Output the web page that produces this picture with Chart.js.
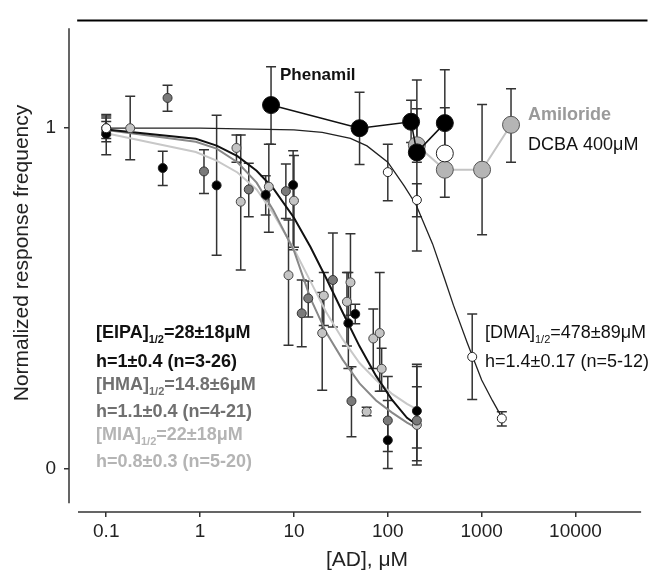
<!DOCTYPE html>
<html>
<head>
<meta charset="utf-8">
<script src="https://cdn.jsdelivr.net/npm/chart.js@4.4.1/dist/chart.umd.min.js"></script>
<style>
  body { margin: 0; background: #fff; }
  #wrap { width: 657px; height: 571px; }
</style>
</head>
<body>
<div id="wrap"><canvas id="chart" width="657" height="571"></canvas></div>
<script>
// axis ticks
const xTicks = [0.1, 1, 10, 100, 1000, 10000];
const yTicks = [0, 1];

// EIPA (black, small)
const eipaConc = [0.1, 0.4, 1.5, 5.0, 9.8, 38, 45, 100, 204];
const eipaResp = [0.983, 0.883, 0.832, 0.804, 0.833, 0.427, 0.454, 0.083, 0.169];
const eipaErr = [[0.922, 1.036], [0.832, 0.932], [0.627, 1.038], [0.745, 0.86], [0.643, 0.934],
                 [0.294, 0.576], [0.425, 0.483], [0.0, 0.2], [0.023, 0.306]];

// HMA (dark grey, small)
const hmaConc = [0.1, 0.45, 1.1, 3.3, 8.2, 12.1, 14.2, 26, 41, 100, 204];
const hmaResp = [1.0, 1.089, 0.873, 0.82, 0.815, 0.456, 0.5, 0.554, 0.198, 0.141, 0.141];
const hmaErr = [[0.97, 1.03], [1.05, 1.126], [0.808, 0.937], [0.74, 0.897], [0.735, 0.895],
                [0.358, 0.554], [0.445, 0.551], [0.416, 0.692], [0.093, 0.299], [0.05, 0.27], [0.06, 0.24]];

// MIA (light grey, small)
const miaConc = [0.1, 0.18, 2.44, 2.71, 5.4, 8.75, 10, 20, 20.8, 36.7, 40, 59.5, 70, 82, 86, 204];
const miaResp = [0.99, 1.0, 0.942, 0.784, 0.828, 0.568, 0.787, 0.398, 0.508, 0.49, 0.547, 0.167,
                 0.382, 0.398, 0.293, 0.128];
const miaErr = [[0.96, 1.02], [0.907, 1.094], [0.9, 0.98], [0.583, 0.98], [0.694, 0.953], [0.362, 0.73],
                [0.65, 0.92], [0.23, 0.517], [0.42, 0.576], [0.36, 0.576], [0.45, 0.69], [0.155, 0.18],
                [0.294, 0.469], [0.227, 0.576], [0.227, 0.353], [0.01, 0.3]];

// DMA (white, small)
const dmaConc = [0.1, 100, 204, 793, 1640];
const dmaResp = [1.0, 0.871, 0.789, 0.328, 0.147];
const dmaErr = [[0.98, 1.04], [0.787, 0.953], [0.74, 0.837], [0.203, 0.454], [0.125, 0.167]];

// Phenamil, Amiloride, DCBA (large markers)
const phenamilConc = [5.7, 50, 177, 204, 405];
const phenamilResp = [1.068, 1.0, 1.019, 0.929, 1.015];
const phenamilErr = [[0.953, 1.181], [0.893, 1.106], [0.958, 1.082], [0.639, 1.142], [0.86, 1.172]];

const amilorideConc = [204, 405, 1010, 2055];
const amilorideResp = [0.95, 0.878, 0.878, 1.01];
const amilorideErr = [[0.9, 1.057], [0.797, 1.06], [0.687, 1.07], [0.9, 1.116]];

const dcbaConc = [405];
const dcbaResp = [0.926];

// fitted curves
const fitConc = [0.1, 0.9, 1.5, 2.5, 4, 6, 10, 15, 22, 33, 50, 75, 110, 160, 200];
const eipaFit = [0.996, 0.969, 0.949, 0.918, 0.875, 0.824, 0.737, 0.651, 0.56, 0.459, 0.359, 0.272, 0.203, 0.149, 0.13];
const hmaFit = [0.995, 0.96, 0.94, 0.9, 0.84, 0.76, 0.64, 0.5, 0.4, 0.32, 0.25, 0.2, 0.165, 0.135, 0.12];
const miaFit = [0.985, 0.93, 0.905, 0.87, 0.82, 0.75, 0.645, 0.55, 0.46, 0.38, 0.31, 0.26, 0.22, 0.19, 0.175];

const dmaFitConc = [0.1, 1, 10, 20, 40, 60, 100, 150, 200, 300, 400, 500, 700, 1000, 1300, 1640];
const dmaFit = [1.0, 1.0, 0.995, 0.988, 0.97, 0.948, 0.9, 0.83, 0.775, 0.66, 0.56, 0.48, 0.37, 0.26, 0.2, 0.15];

const FONT = '"Liberation Sans", Arial, sans-serif';

function pts(xs, ys) {
  return xs.map((x, i) => ({ x: x, y: ys[i] }));
}

function markers(label, xs, ys, err, fill, border, r, order) {
  return {
    type: 'scatter', label: label, data: pts(xs, ys), err: err,
    pointRadius: r, pointHoverRadius: r, backgroundColor: fill, borderColor: border,
    pointBorderWidth: 1, showLine: false, order: order
  };
}

function curve(label, xs, ys, color, width) {
  return {
    type: 'line', label: label, data: pts(xs, ys), borderColor: color, borderWidth: width,
    pointRadius: 0, tension: 0, fill: false, order: 20
  };
}

const datasets = [
  curve('EIPA fit', fitConc, eipaFit, '#111', 2),
  curve('HMA fit', fitConc, hmaFit, '#888', 2),
  curve('MIA fit', fitConc, miaFit, '#c8c8c8', 2),
  curve('DMA fit', dmaFitConc, dmaFit, '#222', 1.3),
  markers('MIA', miaConc, miaResp, miaErr, '#c4c4c4', '#444', 4.5, 8),
  markers('HMA', hmaConc, hmaResp, hmaErr, '#7a7a7a', '#333', 4.5, 7),
  markers('EIPA', eipaConc, eipaResp, eipaErr, '#000', '#222', 4.5, 6),
  markers('DMA', dmaConc, dmaResp, dmaErr, '#fff', '#222', 4.5, 5),
  Object.assign(markers('Amiloride', amilorideConc, amilorideResp, amilorideErr, '#b5b5b5', '#555', 8.5, 4),
    { showLine: true, borderColor: '#555', lineBorder: '#c4c4c4', borderWidth: 2 }),
  Object.assign(markers('Phenamil', phenamilConc, phenamilResp, phenamilErr, '#000', '#111', 8.5, 3),
    { showLine: true, borderWidth: 1.5 }),
  markers('DCBA', dcbaConc, dcbaResp, null, '#fff', '#222', 8.5, 2)
];
// line colour of the Amiloride connector differs from its marker border
datasets[8].segment = { borderColor: '#c4c4c4' };
datasets[9].segment = { borderColor: '#111' };

const errorBars = {
  id: 'errorBars',
  beforeDatasetsDraw(chart) {
    const ctx = chart.ctx, xs = chart.scales.x, ys = chart.scales.y;
    ctx.save();
    ctx.strokeStyle = '#333';
    ctx.lineWidth = 1.5;
    chart.data.datasets.forEach(ds => {
      if (!ds.err) return;
      ds.data.forEach((p, i) => {
        const e = ds.err[i];
        const px = xs.getPixelForValue(p.x);
        const lo = ys.getPixelForValue(e[0]);
        const hi = ys.getPixelForValue(e[1]);
        ctx.beginPath();
        ctx.moveTo(px, lo); ctx.lineTo(px, hi);
        ctx.moveTo(px - 5, lo); ctx.lineTo(px + 5, lo);
        ctx.moveTo(px - 5, hi); ctx.lineTo(px + 5, hi);
        ctx.stroke();
      });
    });
    ctx.restore();
  }
};

function drawParts(ctx, x, y, parts, weight, size, color) {
  ctx.fillStyle = color;
  ctx.textBaseline = 'middle';
  ctx.textAlign = 'left';
  parts.forEach(p => {
    const sub = p[1];
    ctx.font = weight + ' ' + (sub ? Math.round(size * 0.62) : size) + 'px ' + FONT;
    ctx.fillText(p[0], x, sub ? y + size * 0.38 : y);
    x += ctx.measureText(p[0]).width;
  });
}

const decorations = {
  id: 'decorations',
  afterDraw(chart) {
    const ctx = chart.ctx, xs = chart.scales.x, ys = chart.scales.y;
    const area = chart.chartArea;
    ctx.save();
    // axis lines (offset like the original figure)
    ctx.strokeStyle = '#333';
    ctx.lineWidth = 1.5;
    ctx.beginPath();
    ctx.moveTo(area.left, ys.getPixelForValue(1.294));
    ctx.lineTo(area.left, ys.getPixelForValue(-0.102));
    ctx.moveTo(xs.getPixelForValue(0.05), area.bottom);
    ctx.lineTo(xs.getPixelForValue(50000), area.bottom);
    ctx.stroke();
    ctx.strokeStyle = '#000';
    ctx.lineWidth = 2;
    ctx.beginPath();
    ctx.moveTo(xs.getPixelForValue(0.049), area.top + 1);
    ctx.lineTo(area.right, area.top + 1);
    ctx.stroke();

    // axis titles
    ctx.fillStyle = '#222';
    ctx.textAlign = 'center';
    ctx.textBaseline = 'middle';
    ctx.font = '21px ' + FONT;
    ctx.fillText('[AD], \u03bcM', 367, 560);
    ctx.save();
    ctx.translate(22, 253);
    ctx.rotate(-Math.PI / 2);
    ctx.fillText('Normalized response frequency', 0, 0);
    ctx.restore();

    // annotations
    drawParts(ctx, 280, 75, [['Phenamil']], 'bold', 17, '#111');
    drawParts(ctx, 528, 115, [['Amiloride']], 'bold', 18, '#9a9a9a');
    drawParts(ctx, 528, 145, [['DCBA 400\u03bcM']], 'normal', 18, '#111');
    drawParts(ctx, 485, 333, [['[DMA]'], ['1/2', true], ['=478\u00b189\u03bcM']], 'normal', 18, '#111');
    drawParts(ctx, 485, 362, [['h=1.4\u00b10.17 (n=5-12)']], 'normal', 18, '#111');
    drawParts(ctx, 96, 333, [['[EIPA]'], ['1/2', true], ['=28\u00b118\u03bcM']], 'bold', 18, '#111');
    drawParts(ctx, 96, 362, [['h=1\u00b10.4 (n=3-26)']], 'bold', 18, '#111');
    drawParts(ctx, 96, 385, [['[HMA]'], ['1/2', true], ['=14.8\u00b16\u03bcM']], 'bold', 18, '#707070');
    drawParts(ctx, 96, 412, [['h=1.1\u00b10.4 (n=4-21)']], 'bold', 18, '#707070');
    drawParts(ctx, 96, 435, [['[MIA]'], ['1/2', true], ['=22\u00b118\u03bcM']], 'bold', 18, '#b4b4b4');
    drawParts(ctx, 96, 462, [['h=0.8\u00b10.3 (n=5-20)']], 'bold', 18, '#b4b4b4');
    ctx.restore();
  }
};

new Chart(document.getElementById('chart').getContext('2d'), {
  data: { datasets: datasets },
  options: {
    responsive: false,
    animation: false,
    devicePixelRatio: 1,
    layout: { padding: { top: 13, right: 3, left: 0, bottom: 0 } },
    plugins: { legend: { display: false }, tooltip: { enabled: false } },
    scales: {
      x: {
        type: 'logarithmic',
        position: 'bottom',
        min: 0.0401,
        max: 58480,
        afterBuildTicks: (scale) => { scale.ticks = xTicks.map(v => ({ value: v })); },
        afterFit: (scale) => { scale.height = 59; },
        ticks: {
          autoSkip: false, maxRotation: 0, padding: 3, color: '#222',
          font: { family: FONT, size: 19 },
          callback: (v) => String(v)
        },
        grid: { drawOnChartArea: false, drawTicks: true, tickLength: 5, color: '#333', lineWidth: 1.5 },
        border: { display: false }
      },
      y: {
        type: 'linear',
        min: -0.1279,
        max: 1.3198,
        afterBuildTicks: (scale) => { scale.ticks = yTicks.map(v => ({ value: v })); },
        afterFit: (scale) => { scale.width = 69; },
        ticks: {
          padding: 8, color: '#222',
          font: { family: FONT, size: 19 },
          callback: (v) => String(v)
        },
        grid: { drawOnChartArea: false, drawTicks: true, tickLength: 5, color: '#333', lineWidth: 1.5 },
        border: { display: false }
      }
    }
  },
  plugins: [errorBars, decorations]
});
</script>
</body>
</html>
